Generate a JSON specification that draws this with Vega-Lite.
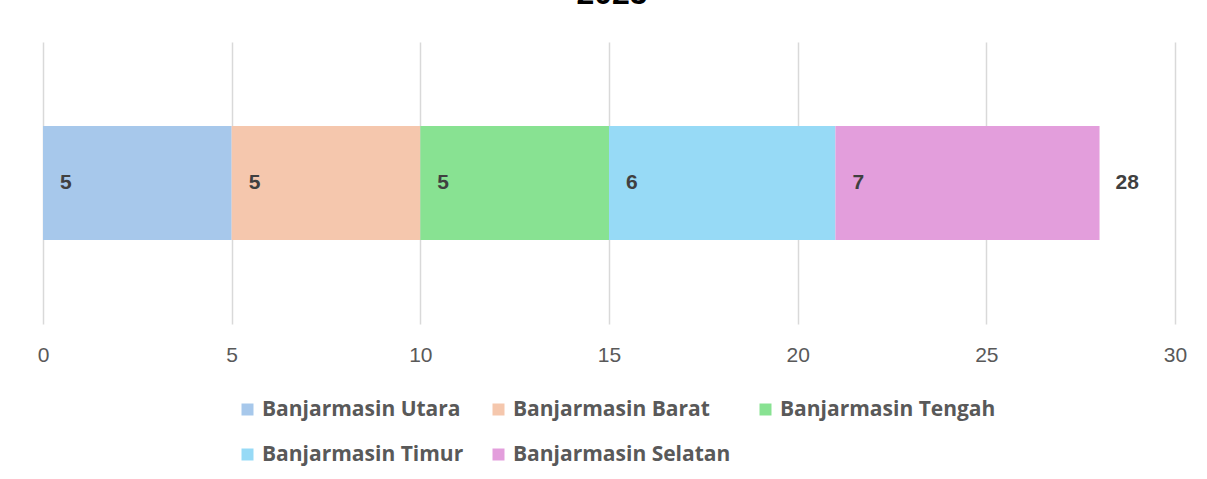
{
  "$schema": "https://vega.github.io/schema/vega-lite/v6.json",
  "width": 1132,
  "height": 282,
  "autosize": {"type": "none"},
  "padding": {"left": 43, "top": 42, "right": 32, "bottom": 155},
  "background": "white",
  "title": {"text": "2025", "fontSize": 32, "font": "Liberation Sans", "fontWeight": "bold", "color": "#000000", "offset": 6, "baseline": "alphabetic", "anchor": "middle", "dx": 3},
  "config": {"view": {"stroke": null}},
  "data": {"values": [
    {"no": 1, "kecamatan": "Banjarmasin Utara", "value": 5},
    {"no": 2, "kecamatan": "Banjarmasin Barat", "value": 5},
    {"no": 3, "kecamatan": "Banjarmasin Tengah", "value": 5},
    {"no": 4, "kecamatan": "Banjarmasin Timur", "value": 6},
    {"no": 5, "kecamatan": "Banjarmasin Selatan", "value": 7}
  ]},
  "layer": [
    {
      "mark": {"type": "bar"},
      "encoding": {
        "y": {"datum": "2025", "type": "nominal", "axis": null, "scale": {"paddingInner": 0, "paddingOuter": 0.737}},
        "x": {"field": "value", "type": "quantitative", "stack": "zero",
          "scale": {"domain": [0, 30], "nice": false},
          "axis": {"values": [0, 5, 10, 15, 20, 25, 30], "title": null, "grid": true, "gridColor": "#d9d9d9", "gridWidth": 1.5, "domain": false, "ticks": false, "labelFlush": false, "labelPadding": 20, "labelFont": "Liberation Sans", "labelFontSize": 21, "labelColor": "#595959"}},
        "color": {"field": "kecamatan", "type": "nominal",
          "scale": {"domain": ["Banjarmasin Utara", "Banjarmasin Barat", "Banjarmasin Tengah", "Banjarmasin Timur", "Banjarmasin Selatan"],
                    "range": ["#a7c8eb", "#f5c7ad", "#88e292", "#97daf6", "#e39edc"]},
          "legend": {"title": null, "orient": "none", "legendX": 194, "legendY": 357, "direction": "horizontal", "columns": 3, "gridAlign": "none", "padding": 0, "symbolType": "square", "symbolSize": 144, "symbolStrokeWidth": 0, "labelFont": "Open Sans", "labelFontSize": 21, "labelFontWeight": "bold", "labelColor": "#595959", "labelOffset": 4, "columnPadding": 24, "rowPadding": 23, "labelLimit": 400}},
        "order": {"field": "no", "type": "quantitative"}
      }
    },
    {
      "transform": [
        {"stack": "value", "groupby": [], "sort": [{"field": "no"}], "as": ["x0", "x1"]}
      ],
      "mark": {"type": "text", "align": "left", "baseline": "middle", "dx": 17, "font": "Liberation Sans", "fontSize": 21, "fontWeight": "bold", "color": "#404040"},
      "encoding": {
        "y": {"datum": "2025", "type": "nominal"},
        "x": {"field": "x0", "type": "quantitative"},
        "text": {"field": "value", "type": "quantitative"}
      }
    },
    {
      "transform": [
        {"aggregate": [{"op": "sum", "field": "value", "as": "total"}]}
      ],
      "mark": {"type": "text", "align": "left", "baseline": "middle", "dx": 16, "font": "Liberation Sans", "fontSize": 21, "fontWeight": "bold", "color": "#404040"},
      "encoding": {
        "y": {"datum": "2025", "type": "nominal"},
        "x": {"field": "total", "type": "quantitative"},
        "text": {"field": "total", "type": "quantitative"}
      }
    }
  ]
}
